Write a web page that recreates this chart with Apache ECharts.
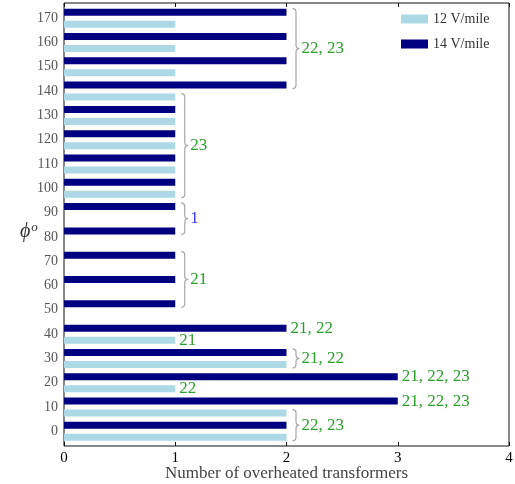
<!DOCTYPE html>
<html><head><meta charset="utf-8">
<script src="https://cdn.jsdelivr.net/npm/echarts@6/dist/echarts.min.js"></script>
<style>html,body{margin:0;padding:0;background:#fff}#c{width:515px;height:484px}</style>
</head><body><div id="c"></div>
<script>
// ---- data ----
const categories = ['0','10','20','30','40','50','60','70','80','90','100','110','120','130','140','150','160','170'];
const v12 = [2,2,1,2,1,0,0,0,0,0,1,1,1,1,1,1,1,1];
const v14 = [2,3,3,2,2,1,1,1,1,1,1,1,1,1,2,2,2,2];
const xTicks = [0,1,2,3,4];
const seriesNames = ['12 V/mile','14 V/mile'];

// braces: top (category, series) to bottom (category, series), placed after value x
const braceText    = ['22, 23','23','1','21','21, 22','22, 23'];
const braceX       = [2,1,1,1,2,2];
const braceFromCat = ['170','140','90','70','30','10'];
const braceFromSer = ['14','12','14','14','14','12'];
const braceToCat   = ['140','100','80','50','30','0'];
const braceToSer   = ['14','12','14','14','12','12'];
// plain labels next to single bars
const labelText = ['21, 22','21','21, 22, 23','22','21, 22, 23'];
const labelCat  = ['40','40','20','20','10'];
const labelSer  = ['14','12','14','12','14'];

// ---- styles ----
const NAVY = '#000080', LIGHT = '#add8e6', GREEN = '#2ca02c', BLUE = '#3a3aff';
const SERIF = '"Liberation Serif","Times New Roman",serif';
const BAR_W = 7, BAR_GAP_PX = 5;
const SER_OFF = {'14': -(BAR_W + BAR_GAP_PX) / 2, '12': (BAR_W + BAR_GAP_PX) / 2};
const textColor = t => (t === '1' ? BLUE : GREEN);

const annData = [];
braceText.forEach((t, i) => annData.push([braceX[i], categories.indexOf(braceToCat[i]), 'b', i]));
labelText.forEach((t, i) => {
  const ci = categories.indexOf(labelCat[i]);
  const val = labelSer[i] === '12' ? v12[ci] : v14[ci];
  annData.push([val, ci, 'l', i]);
});

function renderAnn(params, api) {
  const item = annData[params.dataIndex];
  const kind = item[2], i = item[3];
  if (kind === 'l') {
    const ci = item[1];
    const p = api.coord([item[0], ci]);
    const y = p[1] + SER_OFF[labelSer[i]];
    return {type: 'text', style: {x: p[0] + 4, y: y, text: labelText[i], fill: textColor(labelText[i]),
      font: '17px ' + SERIF, textAlign: 'left', textVerticalAlign: 'middle'}};
  }
  const fi = categories.indexOf(braceFromCat[i]);
  const ti = categories.indexOf(braceToCat[i]);
  const pf = api.coord([braceX[i], fi]);
  const pt = api.coord([braceX[i], ti]);
  const y0 = pf[1] + SER_OFF[braceFromSer[i]] - BAR_W / 2;
  const y1 = pt[1] + SER_OFF[braceToSer[i]] + BAR_W / 2;
  const x0 = pf[0] + 6, w = 7, x1 = x0 + w / 2, x2 = x0 + w;
  const ym = (y0 + y1) / 2;
  const r = Math.min(w / 2, (y1 - y0) / 4);
  const path = `M${x0} ${y0} Q${x1} ${y0} ${x1} ${y0 + r} L${x1} ${ym - r} Q${x1} ${ym} ${x2} ${ym} ` +
               `Q${x1} ${ym} ${x1} ${ym + r} L${x1} ${y1 - r} Q${x1} ${y1} ${x0} ${y1}`;
  return {type: 'group', children: [
    {type: 'path', shape: {pathData: path}, style: {fill: null, stroke: '#a6a6a6', lineWidth: 1.2}},
    {type: 'text', style: {x: x2 + 2, y: ym, text: braceText[i], fill: textColor(braceText[i]),
      font: '17px ' + SERIF, textAlign: 'left', textVerticalAlign: 'middle'}}
  ]};
}

const chart = echarts.init(document.getElementById('c'), null, {renderer: 'canvas'});
chart.setOption({
  animation: false,
  backgroundColor: '#fff',
  title: {
    text: '{p|ϕ}{o|o}', left: 15, top: 216,
    textStyle: {rich: {
      p: {fontFamily: SERIF, fontStyle: 'italic', fontWeight: 'normal', fontSize: 20, color: '#333'},
      o: {fontFamily: SERIF, fontStyle: 'italic', fontWeight: 'normal', fontSize: 13, color: '#333', padding: [0, 0, 9, 1]}
    }}
  },
  legend: {
    data: seriesNames, orient: 'vertical', left: 401, top: 12, padding: 0,
    itemWidth: 27, itemHeight: 9, itemGap: 11, icon: 'rect',
    textStyle: {fontFamily: SERIF, fontSize: 14, color: '#333'}
  },
  grid: [
    {left: 64, top: 3, width: 445, height: 443, show: true, borderColor: '#111', borderWidth: 1,
     backgroundColor: 'transparent', outerBoundsMode: 'none', containLabel: false},
    {left: 64, top: 6, width: 445, height: 437.5, outerBoundsMode: 'none', containLabel: false}
  ],
  xAxis: [
    {gridIndex: 0, type: 'value', min: xTicks[0], max: xTicks[xTicks.length - 1], interval: 1, position: 'bottom',
     axisLine: {show: false}, splitLine: {show: false},
     axisTick: {show: true, inside: true, length: 4, lineStyle: {color: '#111'}},
     axisLabel: {margin: 5, color: '#000', fontFamily: SERIF, fontSize: 15},
     name: 'Number of overheated transformers', nameLocation: 'middle', nameGap: 19.5, nameMoveOverlap: false,
     nameTextStyle: {fontFamily: SERIF, fontSize: 17, color: '#444'}},
    {gridIndex: 0, type: 'value', min: 0, max: 4, interval: 1, position: 'top',
     axisLine: {show: false}, splitLine: {show: false}, axisLabel: {show: false},
     axisTick: {show: true, inside: true, length: 4, lineStyle: {color: '#111'}}},
    {gridIndex: 1, type: 'value', min: 0, max: 4, show: false}
  ],
  yAxis: [
    {gridIndex: 0, type: 'value', min: 0, max: 1, show: false},
    {gridIndex: 1, type: 'category', data: categories,
     axisLine: {show: false}, axisTick: {show: false},
     axisLabel: {margin: 6, color: '#555', fontFamily: SERIF, fontSize: 14}}
  ],
  series: [
    {name: '14 V/mile', type: 'bar', xAxisIndex: 2, yAxisIndex: 1, data: v14,
     barWidth: BAR_W, barGap: (BAR_GAP_PX / BAR_W * 100) + '%', itemStyle: {color: NAVY}},
    {name: '12 V/mile', type: 'bar', xAxisIndex: 2, yAxisIndex: 1, data: v12,
     barWidth: BAR_W, barGap: (BAR_GAP_PX / BAR_W * 100) + '%', itemStyle: {color: LIGHT}},
    {type: 'custom', xAxisIndex: 2, yAxisIndex: 1, data: annData, renderItem: renderAnn,
     encode: {x: 0, y: 1}, silent: true, z: 5}
  ]
});
</script></body></html>
